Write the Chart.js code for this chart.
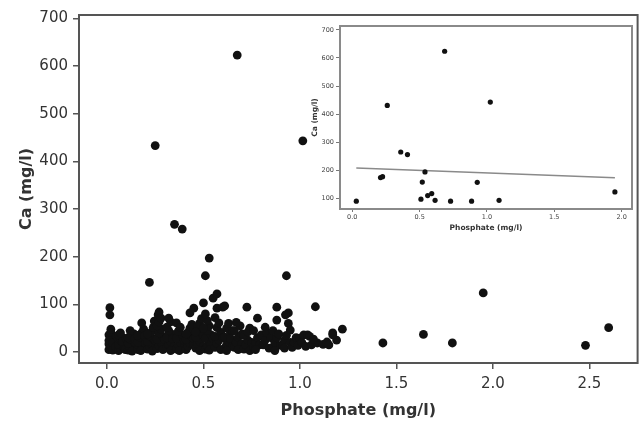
<!DOCTYPE html>
<html>
<head>
<meta charset="utf-8">
<script src="https://cdn.jsdelivr.net/npm/chart.js@4.4.1/dist/chart.umd.min.js"></script>
<style>
html, body { margin: 0; padding: 0; background: #fff; }
#wrap { position: relative; width: 642px; height: 423px; }
#inset { position: absolute; left: 300px; top: 17px; }
</style>
</head>
<body>
<div id="wrap">
  <canvas id="main" width="642" height="423"></canvas>
  <canvas id="inset" width="342" height="230"></canvas>
</div>
<script>
// main scatter: phosphate vs calcium, all samples
var mainPhosphate = [
  0.01,0.02,0.03,0.01,0.04,0.02,0.03,0.01,0.04,0.02,0.03,0.05,0.04,0.01,0.02,0.015,0.015,0.03,0.05,0.045,
  0.06,0.07,0.08,0.06,0.09,0.07,0.08,0.06,0.09,0.10,0.07,0.08,0.10,0.095,
  0.11,0.12,0.13,0.11,0.14,0.12,0.13,0.15,0.14,0.11,0.12,0.15,0.13,0.145,
  0.16,0.17,0.18,0.16,0.19,0.17,0.18,0.20,0.19,0.18,0.16,0.20,0.175,0.195,
  0.21,0.22,0.23,0.21,0.24,0.22,0.23,0.25,0.24,0.22,0.21,0.25,0.235,0.245,
  0.26,0.27,0.28,0.26,0.29,0.27,0.28,0.265,0.27,0.25,0.30,0.29,0.26,0.30,0.27,0.28,
  0.31,0.32,0.33,0.31,0.34,0.32,0.33,0.32,0.35,0.35,0.34,0.31,0.33,
  0.36,0.37,0.38,0.36,0.39,0.37,0.36,0.39,0.40,0.38,0.40,0.375,
  0.41,0.42,0.43,0.41,0.44,0.42,0.43,0.43,0.45,0.45,0.44,0.41,0.45,
  0.46,0.47,0.48,0.46,0.49,0.47,0.48,0.49,0.50,0.50,0.48,0.47,0.50,0.46,
  0.51,0.52,0.53,0.51,0.54,0.52,0.53,0.52,0.51,0.55,0.51,0.53,0.54,0.55,0.53,0.50,
  0.56,0.57,0.58,0.56,0.59,0.57,0.58,0.56,0.57,0.57,0.60,0.59,0.60,
  0.61,0.62,0.63,0.61,0.64,0.62,0.63,0.61,0.65,0.64,0.62,0.65,
  0.66,0.67,0.68,0.66,0.69,0.675,0.70,0.68,0.70,0.67,
  0.71,0.72,0.73,0.71,0.74,0.725,0.75,0.73,0.74,
  0.76,0.77,0.78,0.76,0.78,0.79,0.80,0.77,
  0.81,0.82,0.83,0.84,0.85,0.82,
  0.86,0.87,0.88,0.86,0.88,0.88,0.90,0.89,0.87,
  0.91,0.92,0.93,0.94,0.94,0.925,0.93,0.95,0.92,0.95,
  0.96,0.97,0.98,0.99,1.00,
  1.01,1.02,1.04,1.015,1.03,1.05,
  1.06,1.09,1.07,1.08,
  1.12,1.14,1.15,1.17,1.19,1.17,1.22,
  1.43,1.64,1.79,1.95,2.48,2.60
];
var mainCa = [
  5,9,13,17,21,26,31,36,8,41,4,15,27,24,48,78,93,19,33,11,
  3,7,12,16,20,25,30,36,9,14,40,22,28,5,
  4,8,13,18,22,27,33,10,38,30,45,18,2,28,
  5,11,16,21,26,31,40,8,48,61,35,18,3,34,
  6,12,17,22,28,34,42,10,52,146,38,24,2,65,
  7,13,20,27,33,40,48,78,84,433,15,5,55,26,63,71,
  9,15,22,30,37,45,63,71,268,12,28,52,3,
  6,14,21,29,36,44,61,258,10,52,25,3,
  5,12,19,26,33,41,50,82,92,15,58,38,28,
  8,16,23,31,39,48,60,70,103,12,3,54,35,42,
  6,13,21,29,36,45,55,66,80,113,160,197,17,28,4,50,
  10,18,25,33,41,51,61,72,122,92,94,5,30,
  8,15,23,31,41,50,60,97,12,28,3,45,
  10,20,31,45,55,623,17,5,38,62,
  6,15,25,35,50,94,20,42,3,
  10,20,30,45,71,15,36,5,
  15,25,40,8,30,52,
  10,20,30,45,67,94,14,38,3,
  15,25,35,60,82,78,160,46,8,20,
  10,20,30,14,29,
  20,36,36,443,12,33,
  15,19,27,95,
  16,21,15,40,25,36,48,
  19,37,19,124,14,51
];

// inset: samples with Ca >= ~90 mg/l and a fitted line
var insetPhosphate = [0.03,0.21,0.225,0.26,0.36,0.41,0.51,0.52,0.54,0.56,0.59,0.615,0.686,0.73,0.886,0.928,1.025,1.09,1.95];
var insetCa = [90,174,177,431,265,256,97,158,194,110,117,93,624,90,90,157,443,93,123];
var fitPhosphate = [0.03, 1.95];
var fitCa = [208, 173];

var xTicks = [0, 0.5, 1, 1.5, 2, 2.5];
var yTicks = [0, 100, 200, 300, 400, 500, 600, 700];
var insetXTicks = [0, 0.5, 1, 1.5, 2];
var insetYTicks = [100, 200, 300, 400, 500, 600, 700];

function toPoints(xs, ys) {
  return xs.map(function (x, i) { return { x: x, y: ys[i] }; });
}

var framePlugin = {
  id: 'frame',
  beforeDraw: function (chart, args, opts) {
    var a = chart.chartArea, c = chart.ctx;
    c.save();
    c.fillStyle = '#fff';
    c.fillRect(a.left, a.top, a.right - a.left, a.bottom - a.top);
    c.restore();
  },
  afterDraw: function (chart, args, opts) {
    var a = chart.chartArea, c = chart.ctx;
    c.save();
    c.strokeStyle = opts.color;
    c.lineWidth = opts.width;
    c.strokeRect(a.left, a.top, a.right - a.left, a.bottom - a.top);
    c.restore();
  }
};

var font = 'DejaVu Sans';

var mainChart = new Chart(document.getElementById('main'), {
  type: 'scatter',
  data: {
    datasets: [{
      data: toPoints(mainPhosphate, mainCa),
      backgroundColor: '#111',
      borderWidth: 0,
      pointRadius: 4.4
    }]
  },
  options: {
    responsive: false,
    animation: false,
    layout: { padding: { top: 15, right: 4, left: 0, bottom: 0 } },
    plugins: {
      legend: { display: false },
      tooltip: { enabled: false },
      frame: { color: '#555', width: 2 }
    },
    scales: {
      x: {
        type: 'linear',
        min: -0.145,
        max: 2.75,
        afterBuildTicks: function (s) { s.ticks = xTicks.map(function (v) { return { value: v }; }); },
        afterFit: function (s) { s.height = 60; },
        grid: { drawOnChartArea: false, drawTicks: true, tickLength: 6, color: '#555', lineWidth: 1.5 },
        border: { display: false },
        ticks: {
          font: { family: font, size: 15 },
          color: '#333',
          padding: 6,
          maxRotation: 0,
          callback: function (v) { return v.toFixed(1); }
        },
        title: {
          display: true,
          text: 'Phosphate (mg/l)',
          font: { family: font, size: 16, weight: 'bold' },
          color: '#333',
          padding: { top: 0, bottom: 3 }
        }
      },
      y: {
        type: 'linear',
        min: -23,
        max: 707,
        afterBuildTicks: function (s) { s.ticks = yTicks.map(function (v) { return { value: v }; }); },
        afterFit: function (s) { s.width = 79; },
        grid: { drawOnChartArea: false, drawTicks: true, tickLength: 6, color: '#555', lineWidth: 1.5 },
        border: { display: false },
        ticks: {
          font: { family: font, size: 15 },
          color: '#333',
          padding: 5
        },
        title: {
          display: true,
          text: 'Ca (mg/l)',
          font: { family: font, size: 16, weight: 'bold' },
          color: '#333',
          padding: { top: 17, bottom: 0 }
        }
      }
    }
  },
  plugins: [framePlugin]
});

var insetChart = new Chart(document.getElementById('inset'), {
  type: 'scatter',
  data: {
    datasets: [{
      data: toPoints(insetPhosphate, insetCa),
      backgroundColor: '#111',
      borderWidth: 0,
      pointRadius: 2.6
    }, {
      data: toPoints(fitPhosphate, fitCa),
      showLine: true,
      pointRadius: 0,
      borderColor: '#8a8a8a',
      borderWidth: 1.5,
      fill: false
    }]
  },
  options: {
    responsive: false,
    animation: false,
    layout: { padding: { top: 9, right: 10, left: 0, bottom: 0 } },
    plugins: {
      legend: { display: false },
      tooltip: { enabled: false },
      frame: { color: '#8a8a8a', width: 2 }
    },
    scales: {
      x: {
        type: 'linear',
        min: -0.091,
        max: 2.077,
        afterBuildTicks: function (s) { s.ticks = insetXTicks.map(function (v) { return { value: v }; }); },
        afterFit: function (s) { s.height = 38; },
        grid: { drawOnChartArea: false, drawTicks: true, tickLength: 3, color: '#777', lineWidth: 1 },
        border: { display: false },
        ticks: {
          font: { family: font, size: 6.5 },
          color: '#444',
          padding: 1,
          maxRotation: 0,
          callback: function (v) { return v.toFixed(1); }
        },
        title: {
          display: true,
          text: 'Phosphate (mg/l)',
          font: { family: font, size: 7.5, weight: 'bold' },
          color: '#333',
          padding: { top: 0, bottom: 14.5 }
        }
      },
      y: {
        type: 'linear',
        min: 62,
        max: 714,
        afterBuildTicks: function (s) { s.ticks = insetYTicks.map(function (v) { return { value: v }; }); },
        afterFit: function (s) { s.width = 40; },
        grid: { drawOnChartArea: false, drawTicks: true, tickLength: 4, color: '#777', lineWidth: 1 },
        border: { display: false },
        ticks: {
          font: { family: font, size: 6.5 },
          color: '#444',
          padding: 2
        },
        title: {
          display: true,
          text: 'Ca (mg/l)',
          font: { family: font, size: 7.5, weight: 'bold' },
          color: '#333',
          padding: { top: 10.5, bottom: 0 }
        }
      }
    }
  },
  plugins: [framePlugin]
});
</script>
</body>
</html>
